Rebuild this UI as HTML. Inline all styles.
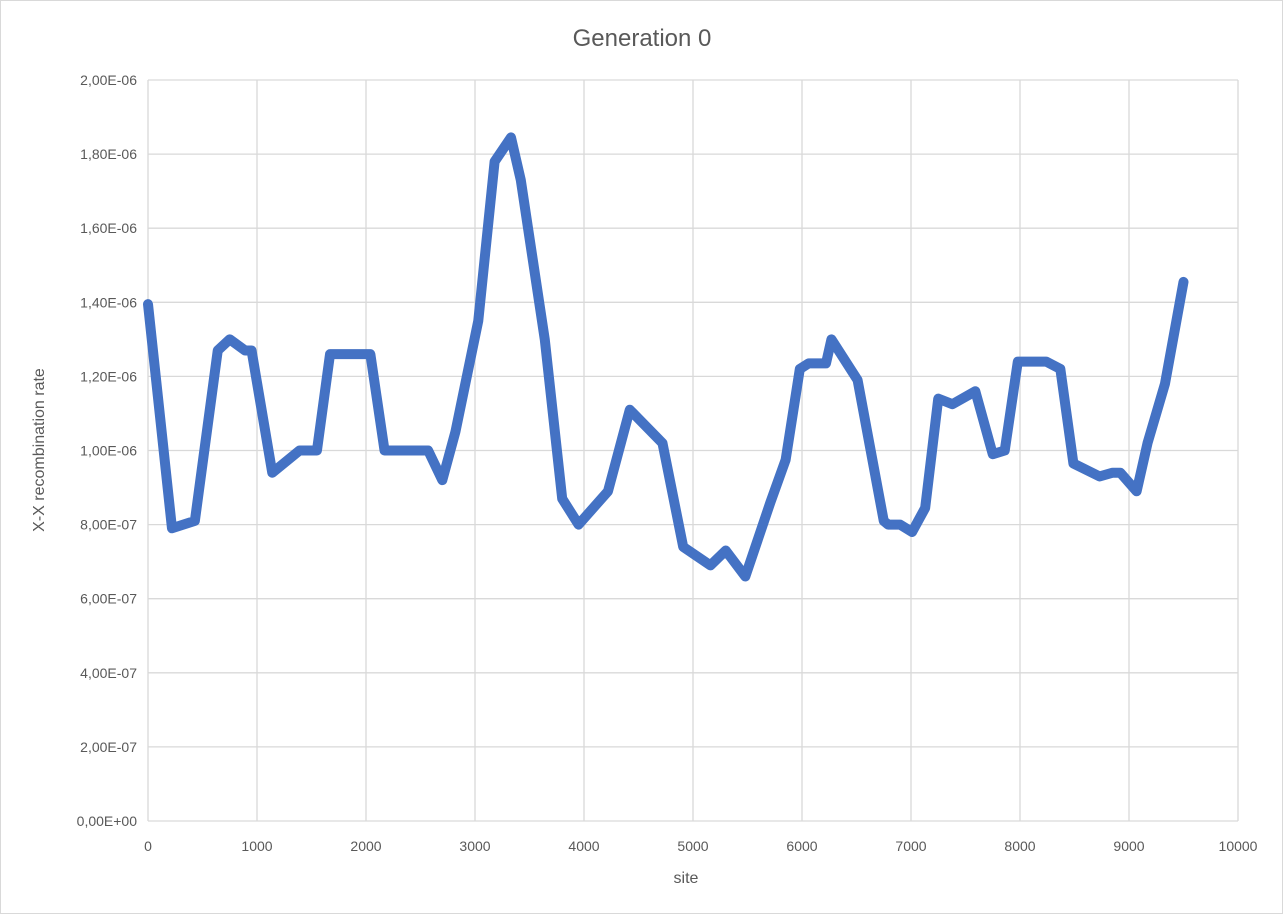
<!DOCTYPE html>
<html><head><meta charset="utf-8"><style>
body{margin:0;background:#fff;font-family:"Liberation Sans",sans-serif}
svg text{font-family:"Liberation Sans",sans-serif;fill:#595959}
</style></head><body>
<svg id="chart" width="1283" height="914">
<rect x="0.5" y="0.5" width="1282" height="913" fill="#fff" stroke="#d9d9d9"/>
<text x="642" y="46" font-size="24" text-anchor="middle">Generation 0</text>
<g id="grid"></g><g id="xt"></g><g id="yt"></g>
<polyline id="line" fill="none" stroke="#4472C4" stroke-width="10" stroke-linejoin="round" stroke-linecap="round"/>
<text x="686" y="883" font-size="16" text-anchor="middle">site</text>
<text transform="translate(44,450) rotate(-90)" font-size="16" text-anchor="middle">X-X recombination rate</text>
</svg>
<script>
const xTicks=[0,1000,2000,3000,4000,5000,6000,7000,8000,9000,10000];
const yTicks=[0,2e-7,4e-7,6e-7,8e-7,1e-6,1.2e-6,1.4e-6,1.6e-6,1.8e-6,2e-6];
const yTickLabels=["0,00E+00","2,00E-07","4,00E-07","6,00E-07","8,00E-07","1,00E-06","1,20E-06","1,40E-06","1,60E-06","1,80E-06","2,00E-06"];
const sites=[0,220,430,640,750,890,950,1140,1390,1550,1670,2040,2170,2570,2700,2820,3030,3180,3330,3420,3640,3800,3950,4220,4420,4720,4910,5160,5300,5480,5710,5850,5980,6060,6220,6270,6510,6750,6790,6900,7010,7130,7250,7380,7590,7750,7860,7980,8240,8370,8490,8730,8850,8920,9070,9170,9330,9500];
const rates=[1.395,0.79,0.81,1.27,1.30,1.27,1.27,0.94,1.00,1.00,1.26,1.26,1.00,1.00,0.92,1.05,1.35,1.78,1.845,1.73,1.30,0.87,0.80,0.89,1.11,1.02,0.74,0.69,0.73,0.66,0.86,0.975,1.22,1.235,1.235,1.30,1.19,0.81,0.80,0.80,0.78,0.845,1.14,1.125,1.16,0.99,1.00,1.24,1.24,1.22,0.965,0.93,0.94,0.94,0.89,1.02,1.18,1.455];
const X=v=>148+v*0.109, Y=v=>821-v*370.5e6/1e0/1e0*1;
const Yv=v=>821-v/2e-6*741;
const NS="http://www.w3.org/2000/svg";
const mk=(p,t,a)=>{const e=document.createElementNS(NS,t);for(const k in a)e.setAttribute(k,a[k]);p.appendChild(e);return e;};
const grid=document.getElementById('grid'),xt=document.getElementById('xt'),yt=document.getElementById('yt');
xTicks.forEach(t=>{
 const l=mk(grid,'line',{x1:X(t),x2:X(t),y1:80,y2:821,stroke:'#d9d9d9','stroke-width':1.3});
 
 
 const tx=mk(xt,'text',{x:X(t),y:851,'font-size':14,'text-anchor':'middle'});tx.textContent=t;
 
 
});
yTicks.forEach((t,i)=>{
 const l=mk(grid,'line',{x1:148,x2:1238,y1:Yv(t),y2:Yv(t),stroke:'#d9d9d9','stroke-width':1.3});
 
 
 const tx=mk(yt,'text',{x:137,y:Yv(t)+5,'font-size':14,'text-anchor':'end'});tx.textContent=yTickLabels[i];
 
 
});
document.getElementById('line').setAttribute('points',sites.map((s,i)=>X(s)+','+Yv(rates[i]*1e-6)).join(' '));
</script>
</body></html>
